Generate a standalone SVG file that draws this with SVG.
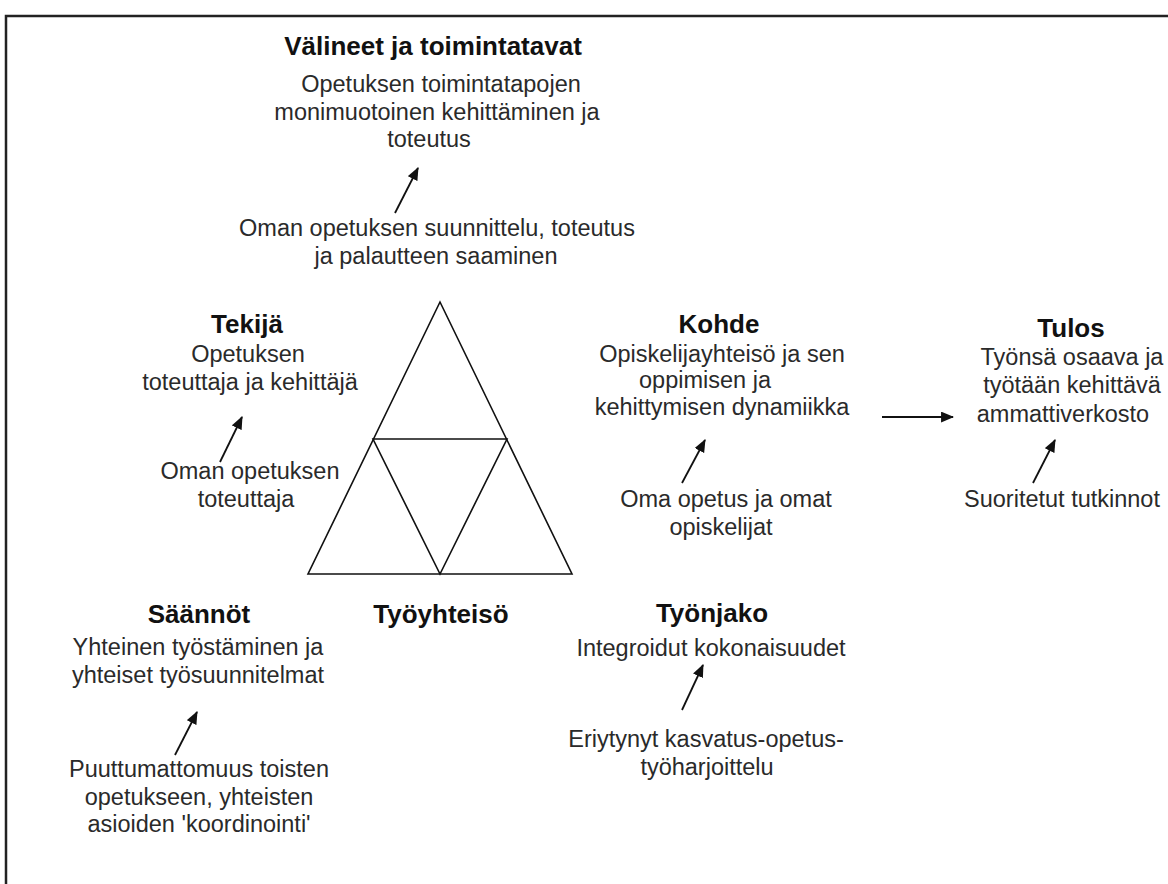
<svg xmlns="http://www.w3.org/2000/svg" width="1168" height="884" viewBox="0 0 1168 884">
  <style>
    .head { font-family: "Liberation Sans", Arial, sans-serif; font-size: 26px; font-weight: bold; fill: #111; text-anchor: middle; }
    .body { font-family: "Liberation Sans", Arial, sans-serif; font-size: 23.5px; fill: #2a2a2a; text-anchor: middle; }
    .conn { stroke: #111; stroke-width: 1.8; fill: none; marker-end: url(#head); }
    .tri { stroke: #111; stroke-width: 1.6; fill: none; stroke-linejoin: miter; }
    .frame { stroke: #222; stroke-width: 2.5; fill: none; }
  </style>
  <defs>
    <marker id="head" viewBox="0 0 12 10" refX="11" refY="5" markerWidth="13" markerHeight="11" markerUnits="userSpaceOnUse" orient="auto">
      <path d="M0,0 L12,5 L0,10 z" fill="#111"/>
    </marker>
  </defs>

  <rect width="1168" height="884" fill="#fff"/>

  <!-- open frame: top and left edges -->
  <path class="frame" d="M6,884 L6,16 L1168,16"/>

  <!-- activity triangle -->
  <g id="triangle">
    <path class="tri" d="M440,302 L572,574 L308,574 Z"/>
    <path class="tri" d="M373,439 L507,439 L440,574 Z"/>
  </g>

  <g id="valineet">
    <text class="head" x="433" y="55">Välineet ja toimintatavat</text>
    <text class="body" x="441" y="92">Opetuksen toimintatapojen</text>
    <text class="body" x="437" y="120">monimuotoinen kehittäminen ja</text>
    <text class="body" x="429" y="147">toteutus</text>
    <text class="body" x="437" y="236">Oman opetuksen suunnittelu, toteutus</text>
    <text class="body" x="436" y="264">ja palautteen saaminen</text>
  </g>

  <g id="tekija">
    <text class="head" x="247" y="333">Tekijä</text>
    <text class="body" x="248" y="362">Opetuksen</text>
    <text class="body" x="250" y="390">toteuttaja ja kehittäjä</text>
    <text class="body" x="250" y="479">Oman opetuksen</text>
    <text class="body" x="246" y="507">toteuttaja</text>
  </g>

  <g id="kohde">
    <text class="head" x="719" y="333">Kohde</text>
    <text class="body" x="722" y="362">Opiskelijayhteisö ja sen</text>
    <text class="body" x="705" y="388">oppimisen ja</text>
    <text class="body" x="722" y="415">kehittymisen dynamiikka</text>
    <text class="body" x="726" y="507">Oma opetus ja omat</text>
    <text class="body" x="721" y="535">opiskelijat</text>
  </g>

  <g id="tulos">
    <text class="head" x="1071" y="337">Tulos</text>
    <text class="body" x="1072" y="365">Työnsä osaava ja</text>
    <text class="body" x="1072" y="393">työtään kehittävä</text>
    <text class="body" x="1063" y="422">ammattiverkosto</text>
    <text class="body" x="1062" y="507">Suoritetut tutkinnot</text>
  </g>

  <g id="saannot">
    <text class="head" x="199" y="623">Säännöt</text>
    <text class="body" x="198" y="655">Yhteinen työstäminen ja</text>
    <text class="body" x="198" y="683">yhteiset työsuunnitelmat</text>
    <text class="body" x="199" y="777">Puuttumattomuus toisten</text>
    <text class="body" x="199" y="805">opetukseen, yhteisten</text>
    <text class="body" x="199" y="832">asioiden 'koordinointi'</text>
  </g>

  <g id="tyoyhteiso">
    <text class="head" x="441" y="623">Työyhteisö</text>
  </g>

  <g id="tyonjako">
    <text class="head" x="712" y="622">Työnjako</text>
    <text class="body" x="711" y="656">Integroidut kokonaisuudet</text>
    <text class="body" x="706" y="747">Eriytynyt kasvatus-opetus-</text>
    <text class="body" x="707" y="775">työharjoittelu</text>
  </g>

  <g id="connectors">
    <line class="conn" x1="395" y1="213" x2="418" y2="168"/>
    <line class="conn" x1="220" y1="462" x2="242" y2="417"/>
    <line class="conn" x1="682" y1="483" x2="705" y2="440"/>
    <line class="conn" x1="882" y1="417" x2="953" y2="417"/>
    <line class="conn" x1="1033" y1="483" x2="1055" y2="440"/>
    <line class="conn" x1="175" y1="755" x2="197" y2="712"/>
    <line class="conn" x1="682" y1="710" x2="703" y2="665"/>
  </g>
</svg>
